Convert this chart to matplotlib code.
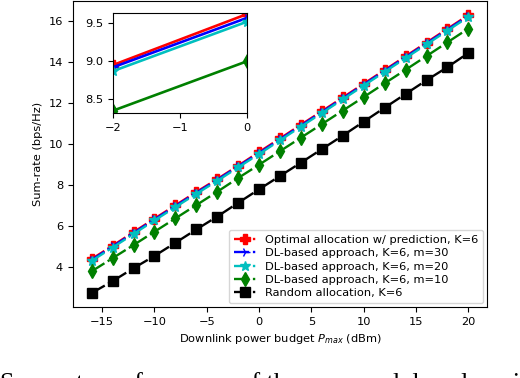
import numpy as np
import matplotlib
matplotlib.use("Agg")
import matplotlib.pyplot as plt

# downlink power budget (dBm)
p_max = [-16, -14, -12, -10, -8, -6, -4, -2, 0, 2, 4, 6, 8, 10, 12, 14, 16, 18, 20]

rate_opt = [4.40, 5.05, 5.71, 6.37, 7.02, 7.67, 8.30, 8.95, 9.62, 10.28,
            10.95, 11.61, 12.28, 12.95, 13.62, 14.29, 14.96, 15.63, 16.30]
rate_m30 = [4.36, 5.01, 5.67, 6.33, 6.98, 7.63, 8.26, 8.92, 9.57, 10.24,
            10.91, 11.57, 12.24, 12.91, 13.58, 14.25, 14.92, 15.59, 16.26]
rate_m20 = [4.31, 4.96, 5.62, 6.28, 6.93, 7.58, 8.21, 8.87, 9.52, 10.19,
            10.86, 11.52, 12.19, 12.86, 13.53, 14.20, 14.87, 15.54, 16.21]
rate_m10 = [3.80, 4.44, 5.08, 5.73, 6.38, 7.03, 7.68, 8.35, 9.00, 9.66,
            10.32, 10.98, 11.64, 12.30, 12.97, 13.63, 14.30, 14.97, 15.64]
rate_rand = [2.74, 3.32, 3.95, 4.55, 5.19, 5.84, 6.47, 7.14, 7.80, 8.45,
             9.10, 9.76, 10.42, 11.10, 11.78, 12.45, 13.12, 13.76, 14.45]

labels = [
    "Optimal allocation w/ prediction, K=6",
    "DL-based approach, K=6, m=30",
    "DL-based approach, K=6, m=20",
    "DL-based approach, K=6, m=10",
    "Random allocation, K=6",
]
series = [rate_opt, rate_m30, rate_m20, rate_m10, rate_rand]
colors = ["red", "blue", "c", "green", "black"]
markers = ["P", "4", "*", "d", "s"]
msizes = [7, 7, 7, 7.5, 6.5]

FS = 8.2

fig = plt.figure(figsize=(5.2, 3.78), dpi=100)
ax = fig.add_axes([0.140, 0.188, 0.797, 0.809])

for y, c, m, ms, lab in zip(series, colors, markers, msizes, labels):
    ax.plot(p_max, y, linestyle="-.", color=c, marker=m, markersize=ms,
            linewidth=1.7, label=lab)

ax.set_xticks([-15, -10, -5, 0, 5, 10, 15, 20])
ax.set_yticks([4, 6, 8, 10, 12, 14, 16])
ax.tick_params(labelsize=FS)
ax.set_xlabel("Downlink power budget $P_{max}$ (dBm)", fontsize=FS)
ax.set_ylabel("Sum-rate (bps/Hz)", fontsize=FS)
ax.legend(loc="lower right", fontsize=FS, handlelength=2.0,
          borderaxespad=0.35, labelspacing=0.3)

# zoomed inset around 0 dBm
axin = fig.add_axes([0.217, 0.701, 0.258, 0.265])
for y, c, m, ms in zip(series, colors, markers, msizes):
    axin.plot(p_max, y, linestyle="-", color=c, marker=m, markersize=ms,
              linewidth=1.9)
axin.set_xlim(-2, 0)
axin.set_ylim(8.32, 9.636)
axin.set_xticks([-2, -1, 0])
axin.set_yticks([8.5, 9.0, 9.5])
axin.tick_params(labelsize=FS)

# top of the paper caption, cut by the image border
fig.text(0.0, -0.032, "Sum-rate performance of the proposed deep learni",
         family="Liberation Serif", fontsize=18.6, ha="left", va="baseline")

fig.savefig("out.png", dpi=100)
